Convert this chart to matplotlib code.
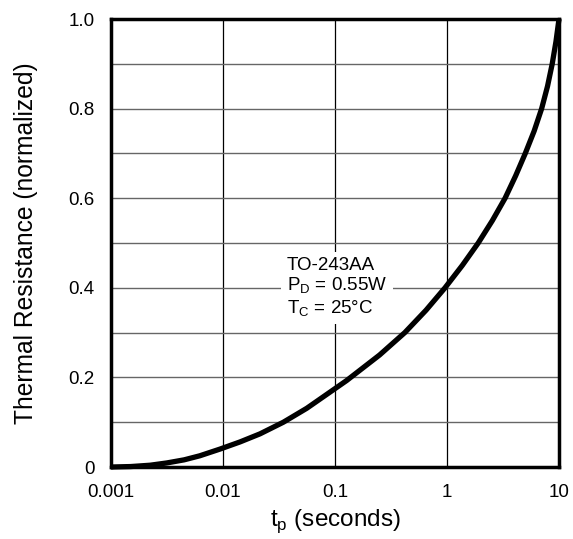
import matplotlib
matplotlib.use("Agg")
import matplotlib.pyplot as plt

plt.rcParams['font.family'] = ['Liberation Sans', 'DejaVu Sans']
plt.rcParams['mathtext.fontset'] = 'custom'
plt.rcParams['mathtext.rm'] = 'Liberation Sans'

# Curve values
tp = [0.001, 0.0015, 0.00224, 0.00314, 0.0045, 0.0062, 0.0094, 0.0142, 0.0214, 0.0346,
      0.0559, 0.0843, 0.127, 0.25, 0.42, 0.65, 0.96, 1.37, 1.9, 2.54, 3.3, 4.1, 5.0,
      6.0, 7.0, 7.9, 8.7, 9.4, 10.0]
rth = [0.0, 0.001, 0.004, 0.009, 0.016, 0.025, 0.040, 0.056, 0.074, 0.1,
       0.131, 0.162, 0.193, 0.25, 0.3, 0.35, 0.4, 0.45, 0.5, 0.55, 0.6, 0.65, 0.7,
       0.75, 0.8, 0.85, 0.9, 0.95, 1.0]

xticks = [0.001, 0.01, 0.1, 1, 10]
xticklabels = ['0.001', '0.01', '0.1', '1', '10']
yticks = [0, 0.2, 0.4, 0.6, 0.8, 1.0]
yticklabels = ['0', '0.2', '0.4', '0.6', '0.8', '1.0']
ygrid = [0.1, 0.2, 0.3, 0.4, 0.5, 0.6, 0.7, 0.8, 0.9]

annotation = "TO-243AA\nP$_\\mathregular{D}$ = 0.55W\nT$_\\mathregular{C}$ = 25°C"

fig = plt.figure(figsize=(5.73, 5.39), dpi=100)
ax = fig.add_axes([111/573, 1-467/539, 448/573, 448/539])
ax.set_xscale('log')
ax.set_xlim(0.001, 10)
ax.set_ylim(0, 1.0)

for x in xticks[1:-1]:
    ax.axvline(x, color='black', lw=0.9, zorder=1)
for y in ygrid:
    ax.axhline(y, color='#666666', lw=1.0, zorder=1)

ax.plot(tp, rth, color='black', lw=3.8, solid_joinstyle='round',
        solid_capstyle='butt', zorder=3, clip_on=False)

ax.set_xticks(xticks)
ax.set_xticklabels(xticklabels)
ax.xaxis.set_minor_locator(matplotlib.ticker.NullLocator())
ax.set_yticks(yticks)
ax.set_yticklabels(yticklabels)
ax.tick_params(length=0, labelsize=13.5)
ax.tick_params(axis='x', pad=12)
ax.tick_params(axis='y', pad=12)

for s in ax.spines.values():
    s.set_linewidth(2.5)
    s.set_zorder(4)

ax.set_xlabel("t$_\\mathregular{p}$ (seconds)", fontsize=17.5, labelpad=5)
ax.set_ylabel("Thermal Resistance (normalized)", fontsize=17.7, labelpad=22)

ax.text(0.393, 0.4, annotation, fontsize=13.5, ha='left', va='center',
        linespacing=1.15, zorder=2, transform=ax.transAxes,
        bbox=dict(facecolor='white', edgecolor='none', pad=4))

fig.savefig('out.png', dpi=100)
